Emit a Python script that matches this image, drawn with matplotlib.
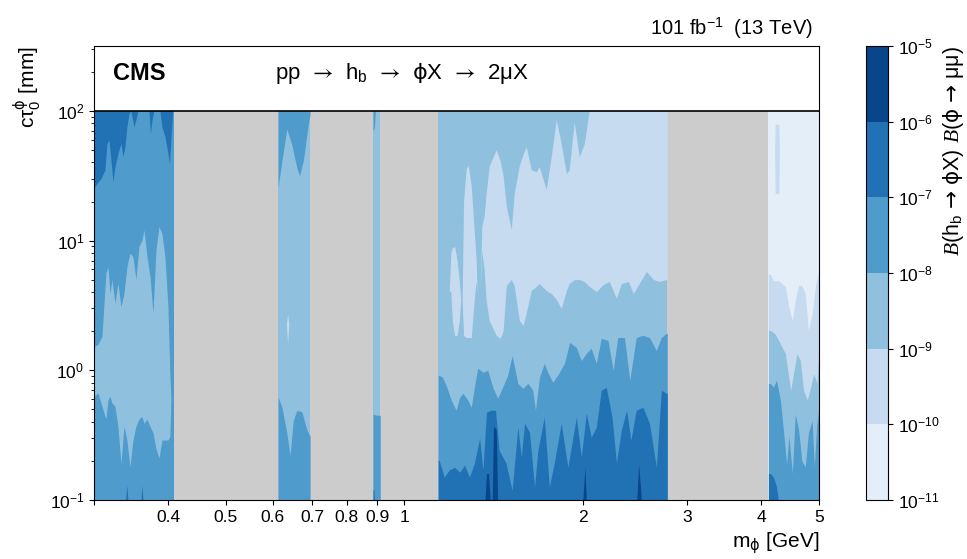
import matplotlib
matplotlib.use('Agg')
import matplotlib.pyplot as plt
from matplotlib.colors import ListedColormap, BoundaryNorm
from matplotlib.cm import ScalarMappable
from matplotlib.ticker import FixedLocator, NullLocator, LogFormatterMathtext

plt.rcParams['font.family'] = ['Liberation Sans', 'DejaVu Sans']
plt.rcParams['mathtext.fontset'] = 'custom'
plt.rcParams['mathtext.rm'] = 'Liberation Sans'
plt.rcParams['mathtext.sf'] = 'DejaVu Sans'      # straight phi
plt.rcParams['mathtext.tt'] = 'STIXGeneral'      # thin long arrows
plt.rcParams['mathtext.it'] = 'Liberation Serif:italic'
plt.rcParams['mathtext.bf'] = 'Liberation Sans:bold'
plt.rcParams['mathtext.default'] = 'regular'

ARROW = r'$\mathtt{→}$'
SHORT_ARROW = r'$\mathsf{→}$'
PHI = r'$\mathsf{ϕ}$'

# colour bands of the limit on B(hb -> phi X) B(phi -> mumu)
limit_levels = [1e-11, 1e-10, 1e-9, 1e-8, 1e-7, 1e-6, 1e-5]
band_colors = ['#e4eef9', '#c6dbef', '#8fc1de', '#4f9bcc', '#2171b5', '#08468b']
mask_color = '#cccccc'

# mass windows (GeV) that are masked (resonances) and the ones that have limits
masked_windows = [(0.409, 0.613), (0.694, 0.886), (0.911, 1.141), (2.775, 4.110)]
limit_windows = [(0.300, 0.409), (0.613, 0.694), (0.886, 0.911), (1.141, 2.775), (4.110, 5.000)]
window_base_band = [3, 2, 2, 2, 0]

# --- 0.30-0.41 GeV ---
a5_top_mass = [0.300, 0.3035, 0.3082, 0.3130, 0.3155, 0.3179, 0.3204, 0.3229, 0.3254, 0.3292,
               0.3331, 0.3357, 0.3383, 0.3409, 0.3436, 0.3463, 0.3503, 0.3530, 0.3558, 0.3713,
               0.3735, 0.3757, 0.3786, 0.3875, 0.3905, 0.3951, 0.3997, 0.4020, 0.4043, 0.4071, 0.409]
a5_top_low = [25.3, 27.6, 30.1, 35.0, 56.1, 59.5, 41.8, 28.4, 37.1, 46.9,
              56.1, 44.3, 52.8, 75.3, 95.3, 100, 75.3, 85.3, 100, 100,
              66.9, 85.0, 100, 100, 75.3, 63.1, 46.9, 39.3, 59.5, 100, 100]
a3_mass = [0.300, 0.3047, 0.3094, 0.3142, 0.3167, 0.3192, 0.3216, 0.3254, 0.3292, 0.3331,
           0.3370, 0.3409, 0.3449, 0.3490, 0.3530, 0.3572, 0.3614, 0.3642, 0.3685, 0.3728,
           0.3772, 0.3816, 0.3860, 0.3905, 0.3951, 0.3997, 0.4027, 0.4043]
a3_low = [0.63, 0.67, 0.53, 0.42, 0.59, 0.63, 0.56, 0.53, 0.37, 0.19,
          0.37, 0.29, 0.18, 0.29, 0.37, 0.42, 0.44, 0.39, 0.42, 0.37,
          0.33, 0.25, 0.21, 0.29, 0.29, 0.29, 0.31, 0.60]
a3_high = [1.53, 1.58, 1.83, 5.6, 6.3, 3.9, 5.0, 3.3, 4.7, 3.1,
           3.9, 6.3, 8.0, 7.5, 5.0, 9.0, 10.1, 12.1, 7.5, 5.3,
           2.76, 8.5, 12.8, 11.4, 7.5, 3.1, 0.95, 0.60]
a5_bot_mass = [0.3390, 0.3409, 0.3422, 0.3600, 0.3614, 0.3628]
a5_bot_high = [0.1, 0.13, 0.1, 0.1, 0.13, 0.1]

# --- 0.61-0.69 GeV ---
b4_top_mass = [0.613, 0.622, 0.634, 0.646, 0.659, 0.666, 0.676, 0.689, 0.694]
b4_top_low = [25.7, 41.2, 72.3, 55.4, 36.6, 31.6, 41.2, 78.9, 94.4]
b4_bot_mass = [0.613, 0.622, 0.634, 0.642, 0.650, 0.659, 0.672, 0.685, 0.694]
b4_bot_high = [0.62, 0.52, 0.33, 0.22, 0.41, 0.49, 0.48, 0.35, 0.31]
b2_mass = [0.633, 0.636, 0.639]
b2_low = [2.3, 1.6, 2.3]
b2_high = [2.3, 2.7, 2.3]

# --- 0.89-0.91 GeV ---
c4_top_mass = [0.886, 0.891, 0.894, 0.911]
c4_top_low = [70, 75, 100, 100]
c4_bot_mass = [0.886, 0.898, 0.911]
c4_bot_high = [0.46, 0.45, 0.45]
c5_bot_mass = [0.886, 0.889, 0.891]
c5_bot_high = [0.12, 0.12, 0.1]

# --- 1.14-2.78 GeV ---
d4_mass = [1.141, 1.145, 1.160, 1.180, 1.200, 1.223, 1.240, 1.256, 1.280, 1.297,
           1.313, 1.330, 1.357, 1.383, 1.410, 1.437, 1.465, 1.494, 1.520, 1.554,
           1.584, 1.616, 1.647, 1.664, 1.690, 1.722, 1.745, 1.780, 1.813, 1.862,
           1.900, 1.950, 1.988, 2.027, 2.066, 2.107, 2.148, 2.205, 2.250, 2.290,
           2.350, 2.400, 2.460, 2.525, 2.590, 2.660, 2.712, 2.765, 2.775]
d4_high = [0.915, 0.915, 0.884, 0.740, 0.588, 0.492, 0.620, 0.665, 0.588, 0.519,
           0.740, 1.04, 0.965, 1.00, 0.740, 0.609, 0.740, 0.915, 1.30, 0.794,
           0.727, 0.794, 0.702, 0.492, 0.884, 1.13, 0.965, 0.809, 0.915, 1.13,
           1.64, 1.50, 1.19, 1.35, 1.48, 1.13, 1.76, 1.70, 1.00, 1.79,
           1.79, 0.838, 1.79, 1.86, 1.79, 1.42, 1.79, 1.93, 1.93]
d5_mass = [1.141, 1.145, 1.168, 1.190, 1.216, 1.240, 1.264, 1.288, 1.313, 1.340,
           1.357, 1.376, 1.400, 1.425, 1.445, 1.484, 1.520, 1.554, 1.575, 1.595,
           1.626, 1.658, 1.680, 1.722, 1.756, 1.790, 1.839, 1.887, 1.950, 1.988,
           2.027, 2.066, 2.107, 2.148, 2.190, 2.240, 2.278, 2.322, 2.370, 2.410,
           2.460, 2.525, 2.590, 2.660, 2.712, 2.765, 2.775]
d5_high = [0.203, 0.203, 0.150, 0.170, 0.179, 0.164, 0.186, 0.150, 0.193, 0.300,
           0.170, 0.475, 0.492, 0.492, 0.242, 0.193, 0.119, 0.364, 0.214, 0.391,
           0.334, 0.126, 0.242, 0.435, 0.126, 0.193, 0.391, 0.179, 0.435, 0.214,
           0.467, 0.305, 0.364, 0.702, 0.740, 0.435, 0.193, 0.345, 0.492, 0.289,
           0.492, 0.519, 0.391, 0.179, 0.702, 0.665, 0.665]
d6_mass = [1.368, 1.376, 1.387, 1.396, 1.407, 1.414, 1.429, 1.437,
           2.000, 2.016, 2.027, 2.466, 2.483, 2.500, 2.510]
d6_high = [0.1, 0.16, 0.16, 0.1, 0.1, 0.37, 0.35, 0.1,
           0.1, 0.18, 0.1, 0.1, 0.19, 0.13, 0.1]
d2_mass = [1.141, 1.191, 1.198, 1.205, 1.216, 1.228, 1.238, 1.245, 1.252, 1.259,
           1.272, 1.282, 1.297, 1.312, 1.322, 1.327, 1.343, 1.351, 1.364, 1.374,
           1.391, 1.429, 1.451, 1.468, 1.486, 1.515, 1.532, 1.563, 1.587, 1.606,
           1.637, 1.669, 1.689, 1.735, 1.769, 1.804, 1.839, 1.876, 1.897, 1.934,
           1.972, 2.011, 2.050, 2.107, 2.165, 2.216, 2.278, 2.322, 2.386, 2.432,
           2.489, 2.559, 2.629, 2.691, 2.765, 2.775]
d2_low = [4.0, 4.0, 4.1, 2.4, 1.86, 1.86, 2.4, 3.5, 3.5, 1.86,
          1.79, 1.79, 1.79, 3.46, 4.92, 4.0, 4.0, 8.4, 5.9, 3.46,
          2.42, 1.86, 1.76, 2.03, 4.51, 5.01, 4.51, 2.42, 2.22, 2.79,
          4.12, 4.43, 4.67, 4.12, 3.91, 3.52, 3.00, 4.12, 4.67, 5.01,
          5.01, 4.84, 4.43, 4.05, 4.59, 4.84, 3.58, 4.67, 4.84, 3.91,
          4.67, 5.78, 5.01, 4.84, 5.01, 5.01]
d2_high = [4.0, 4.0, 7.9, 8.8, 9.0, 7.0, 4.9, 3.5, 3.5, 20.3,
           35.8, 38.0, 26.5, 11.9, 7.0, 4.0, 4.0, 12.8, 15.6, 23.0,
           37.8, 50.1, 41.2, 31.6, 18.3, 12.2, 23.0, 37.8, 46.7, 52.8,
           35.2, 33.9, 37.1, 24.7, 44.3, 85.3, 55.7, 32.8, 35.2, 82.3,
           44.3, 55.7, 100, 100, 100, 100, 100, 100, 100, 100,
           100, 100, 100, 100, 100, 100]

# --- 4.11-5.0 GeV ---
e2_mass = [4.110, 4.140, 4.190, 4.280, 4.390, 4.450, 4.510, 4.560, 4.620, 4.680,
           4.740, 4.800, 4.870, 4.930, 4.980, 5.000]
e2_high = [5.5, 5.5, 4.9, 4.9, 4.4, 3.07, 2.42, 3.46, 4.51, 4.51,
           3.9, 2.03, 2.73, 4.4, 5.5, 5.5]
e3_mass = [4.110, 4.140, 4.215, 4.305, 4.390, 4.480, 4.530, 4.590, 4.650, 4.710,
           4.780, 4.840, 4.900, 4.960, 5.000]
e3_high = [2.03, 2.03, 1.91, 1.60, 1.34, 0.70, 0.94, 1.34, 1.19, 0.70,
           0.59, 0.74, 0.94, 0.79, 1.5]
e4_mass = [4.110, 4.140, 4.190, 4.240, 4.305, 4.360, 4.410, 4.450, 4.510, 4.560,
           4.620, 4.680, 4.740, 4.800, 4.870, 4.910, 4.960, 5.000]
e4_high = [0.79, 0.79, 0.74, 0.84, 0.59, 0.33, 0.19, 0.31, 0.16, 0.46,
           0.35, 0.20, 0.18, 0.33, 0.41, 0.18, 0.39, 0.52]
e5_mass = [4.110, 4.140, 4.190, 4.240, 4.270]
e5_high = [0.16, 0.16, 0.15, 0.127, 0.1]
e2s_mass = [4.210, 4.218, 4.280, 4.288]
e2s_low = [50, 23, 23, 50]
e2s_high = [50, 79, 79, 50]

xtick_values = [0.3, 0.4, 0.5, 0.6, 0.7, 0.8, 0.9, 1, 2, 3, 4, 5]
xtick_labels = ['', '0.4', '0.5', '0.6', '0.7', '0.8', '0.9', '1', '2', '3', '4', '5']

ctau_min, ctau_max, box_top = 0.1, 100, 316

# (band index, mass, lower ctau, upper ctau); None means axis bottom / top of data area
patches = [
    (4, a5_top_mass, a5_top_low, None),
    (2, a3_mass, a3_low, a3_high),
    (4, a5_bot_mass, None, a5_bot_high),
    (3, b4_top_mass, b4_top_low, None),
    (3, b4_bot_mass, None, b4_bot_high),
    (1, b2_mass, b2_low, b2_high),
    (3, c4_top_mass, c4_top_low, None),
    (3, c4_bot_mass, None, c4_bot_high),
    (4, c5_bot_mass, None, c5_bot_high),
    (3, d4_mass, None, d4_high),
    (4, d5_mass, None, d5_high),
    (5, d6_mass, None, d6_high),
    (1, d2_mass, d2_low, d2_high),
    (1, e2_mass, None, e2_high),
    (2, e3_mass, None, e3_high),
    (3, e4_mass, None, e4_high),
    (4, e5_mass, None, e5_high),
    (1, e2s_mass, e2s_low, e2s_high),
]

fig = plt.figure(figsize=(9.67, 5.59), dpi=100)
ax = fig.add_axes([0.0972, 0.1055, 0.7497, 0.8122])
cax = fig.add_axes([0.8955, 0.1055, 0.0228, 0.8122])

for lo, hi in masked_windows:
    ax.fill_between([lo, hi], ctau_min, ctau_max, color=mask_color, lw=0)
for (lo, hi), band in zip(limit_windows, window_base_band):
    ax.fill_between([lo, hi], ctau_min, ctau_max, color=band_colors[band], lw=0)
for band, mass, low, high in patches:
    low = ctau_min if low is None else low
    high = ctau_max if high is None else high
    ax.fill_between(mass, low, high, color=band_colors[band], lw=0)

ax.axhline(ctau_max, color='black', lw=1.2)

ax.set_xscale('log')
ax.set_yscale('log')
ax.set_xlim(0.3, 5.0)
ax.set_ylim(ctau_min, box_top)
ax.xaxis.set_major_locator(FixedLocator(xtick_values))
ax.xaxis.set_minor_locator(NullLocator())
ax.set_xticklabels(xtick_labels)
ax.tick_params(labelsize=12.5)

ax.set_xlabel('m$_{\\mathsf{ϕ}}$ [GeV]', fontsize=15, loc='right')
ax.set_ylabel('cτ$_{0}^{\\mathsf{ϕ}}$ [mm]', fontsize=15, loc='top')

ax.text(0.026, 0.94, 'CMS', transform=ax.transAxes, fontsize=17, fontweight='bold', va='center')
ax.text(0.25, 0.94, f'pp  {ARROW}  h$_{{b}}$  {ARROW}  {PHI}X  {ARROW}  2μX',
        transform=ax.transAxes, fontsize=16, va='center')
ax.text(0.992, 1.012, '101 fb$^{-1}$  (13 TeV)', transform=ax.transAxes, fontsize=14.5,
        ha='right', va='bottom')

cmap = ListedColormap(band_colors)
norm = BoundaryNorm(limit_levels, cmap.N)
cb = fig.colorbar(ScalarMappable(norm=norm, cmap=cmap), cax=cax, ticks=limit_levels, spacing='uniform')
cb.ax.yaxis.set_major_formatter(LogFormatterMathtext())
cb.ax.tick_params(labelsize=12.5)
cb.set_label(f'$\\mathit{{B}}$(h$_{{b}}$ {SHORT_ARROW} {PHI}X) $\\mathit{{B}}$({PHI} {SHORT_ARROW} μμ)',
             fontsize=15.5, loc='top', labelpad=1)

fig.savefig('out.png', dpi=100)
